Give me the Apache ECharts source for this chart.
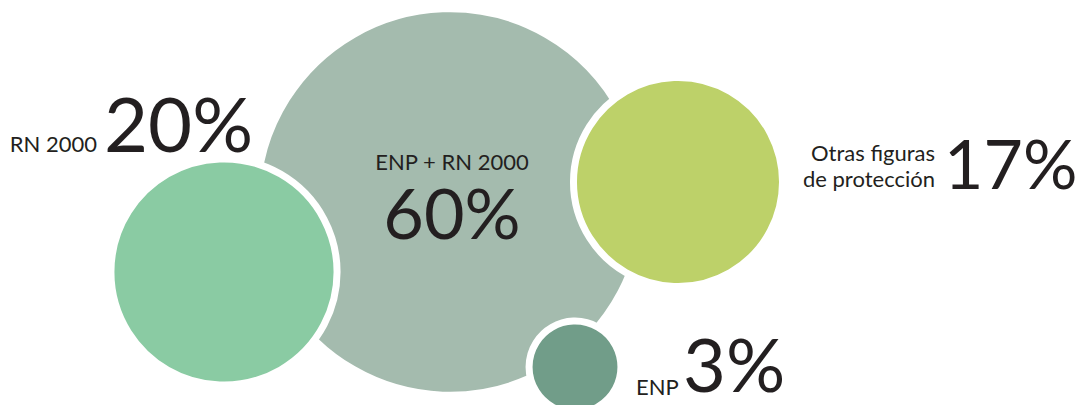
<!DOCTYPE html>
<html>
<head>
<meta charset="utf-8">
<script src="https://cdn.jsdelivr.net/npm/echarts@6/dist/echarts.min.js"></script>
<style>html,body{margin:0;padding:0;background:#fff}#c{width:1082px;height:405px}</style>
</head>
<body>
<div id="c"></div>
<script>
// Data
const categories = ['ENP + RN 2000', 'RN 2000', 'Otras figuras de protección', 'ENP'];
const values = [60, 20, 17, 3];
const valueLabels = ['60%', '20%', '17%', '3%'];

// Layout (bubble centres, in chart units)
const centreX = [450, 224, 678, 575];
const centreY = [202, 272, 182, 367];
const colors = ['#a4bbae', '#8acba3', '#bdd169', '#719d89'];

const chart = echarts.init(document.getElementById('c'), null, {renderer: 'svg'});
const BORDER = 7;
const data = values.map((v, i) => ({
  name: categories[i],
  value: [centreX[i], centreY[i], v],
  itemStyle: {color: colors[i]}
}));

const dark = '#231f20';
const FONT = 'Lato, "Open Sans", sans-serif';
const small = '22px ' + FONT;
function big(size){ return size + 'px ' + FONT; }
function txt(text, x, y, font, align){
  return {type: 'text', z: 100, silent: true,
    style: {text: text, x: x, y: y, font: font, fill: dark, textAlign: align, textVerticalAlign: 'bottom'}};
}

chart.setOption({
  animation: false,
  grid: {left: 0, right: 0, top: 0, bottom: 0},
  xAxis: {type: 'value', min: 0, max: 1082, show: false},
  yAxis: {type: 'value', min: 0, max: 405, inverse: true, show: false},
  series: [{
    type: 'scatter',
    data: data,
    symbol: 'circle',
    symbolSize: d => 2 * (24.5 * Math.sqrt(d[2]) + BORDER / 2),
    itemStyle: {borderColor: '#ffffff', borderWidth: BORDER, opacity: 1},
    label: {show: false},
    emphasis: {disabled: true}
  }],
  graphic: [
    txt('RN 2000', 97, 154, small, 'right'),
    txt(valueLabels[1], 104, 160, big(76), 'left'),
    txt(categories[0], 452, 172, small, 'center'),
    txt(valueLabels[0], 452, 247, big(70), 'center'),
    txt('Otras figuras', 935, 163, small, 'right'),
    txt('de protección', 935, 189, small, 'right'),
    txt(valueLabels[2], 944, 196, big(68), 'left'),
    txt(categories[3], 636, 397, small, 'left'),
    txt(valueLabels[3], 683, 400, big(74), 'left')
  ]
});
</script>
</body>
</html>
